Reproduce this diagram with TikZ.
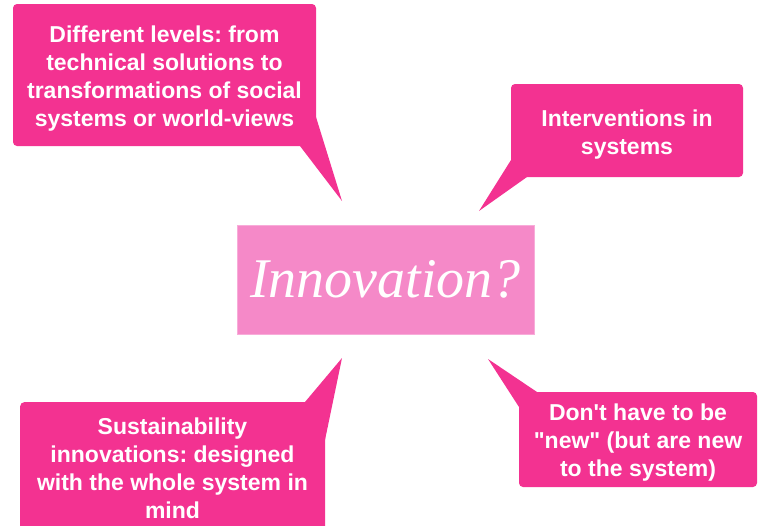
\documentclass[tikz,border=0pt]{standalone}
\usepackage{fontspec}
\setmainfont{Liberation Sans}[Ligatures=TeXOff]
\newfontfamily\titlefont{Liberation Serif}
\definecolor{hotpink}{RGB}{243,50,145}
\definecolor{lightpink}{RGB}{245,137,200}
\frenchspacing
\begin{document}
\begin{tikzpicture}[x=1pt,y=-1pt,
  callout/.style={fill=hotpink,rounded corners=4pt,inner sep=0pt},
  ctext/.style={text=white,align=center,font=\fontsize{23}{28}\selectfont\bfseries\frenchspacing,inner sep=0pt},
  tail/.style={fill=hotpink}]
\useasboundingbox (0,0) rectangle (758,525);
\begin{scope}
\clip (0,0) rectangle (758,525);
% box 1
\node[callout,minimum width=303pt,minimum height=142pt] (b1) at (164.5,75) {};
\fill[tail] (316,117) -- (342,201) coordinate (t1) -- (300,146) -- cycle;
\node[ctext] (x1) at (164.5,79) {Different levels: from\\technical solutions to\\transformations of social\\systems or world-views};
% box 2
\node[callout,minimum width=232pt,minimum height=93pt] (b2) at (627,130.5) {};
\fill[tail] (511,160) -- (479,211) coordinate (t2) -- (527,177) -- cycle;
\node[ctext] (x2) at (627,134.5) {Interventions in\\systems};
% box 3
\node[callout,minimum width=305pt,minimum height=140pt,anchor=north west] (b3) at (20,402) {};
\fill[tail] (305,402) -- (342,358) coordinate (t3) -- (325,440) -- cycle;
\node[ctext] (x3) at (172.5,468) {Sustainability\\innovations: designed\\with the whole system in\\mind};
% box 4
\node[callout,minimum width=238pt,minimum height=95pt] (b4) at (638,439.5) {};
\fill[tail] (537,392) -- (488,359) coordinate (t4) -- (519,407) -- cycle;
\node[ctext] (x4) at (638,443) {Don't have to be\\"new" (but are new\\to the system)};
% center
\node[fill=lightpink,draw=lightpink!70!white,minimum width=297pt,minimum height=109pt,inner sep=0pt,
  text=white,font=\titlefont\itshape\fontsize{56}{60}\selectfont] (c) at (385.5,279.5) {Innovation?};
\end{scope}
\end{tikzpicture}
\end{document}
